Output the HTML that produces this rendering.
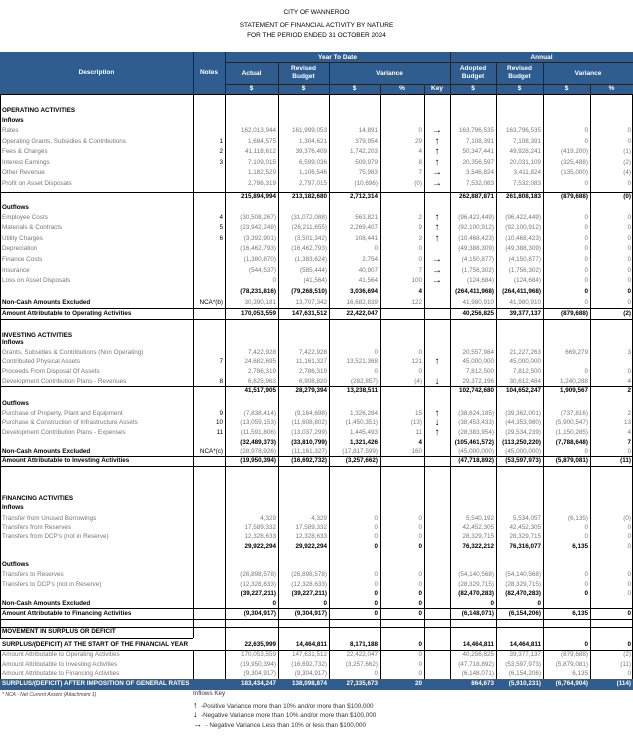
<!DOCTYPE html>
<html><head><meta charset="utf-8"><style>
body{margin:0;width:633px;height:742px;background:#fff;position:relative;overflow:hidden;font-family:"Liberation Sans",Arial,sans-serif;}
.t{position:absolute;left:0;width:633px;text-align:center;font-size:6.5px;color:#000;}
.hd{position:absolute;left:0;top:52px;width:633px;height:42px;background:#2f5d8f;}
.hl{position:absolute;background:#17273b;}
.ht{position:absolute;color:#fff;font-weight:bold;font-size:6.5px;text-align:center;line-height:8px;}
.vl{position:absolute;width:1px;background:#000;}
.hr{position:absolute;height:1px;background:#000;}
.r{position:absolute;left:0;width:633px;height:10px;line-height:10px;font-size:6.3px;color:#777;white-space:nowrap;}
.r span{position:absolute;top:0;text-align:right;}
.r .d{left:2px;text-align:left;width:300px;}
.n{left:193px;width:30px;color:#000;}
.a{left:225px;width:51px}.b{left:278px;width:49px}.c{left:329px;width:49px}.p{left:380px;width:42px}
.k{left:424px;width:26px;text-align:center!important;color:#000;font-weight:bold;font-size:10px}
.e{left:450px;width:44px}.f{left:496px;width:45px}.g{left:543px;width:45px}.h{left:590px;width:41px}
.B{color:#000;font-weight:bold;}
.bl{position:absolute;left:0;top:679px;width:633px;height:11px;background:#2f5d8f;}
.W{color:#fff!important;font-weight:bold;}
</style></head><body>
<div class="t" style="top:9px">CITY OF WANNEROO</div>
<div class="t" style="top:22px">STATEMENT OF FINANCIAL ACTIVITY BY NATURE</div>
<div class="t" style="top:32px">FOR THE PERIOD ENDED 31 OCTOBER 2024</div>

<div class="hd"></div>
<div class="hl" style="left:193px;top:52px;width:1px;height:42px"></div>
<div class="hl" style="left:225px;top:52px;width:1px;height:42px"></div>
<div class="hl" style="left:450px;top:52px;width:1px;height:42px"></div>
<div class="hl" style="left:225px;top:62px;width:408px;height:1px"></div>
<div class="hl" style="left:225px;top:84px;width:408px;height:1px"></div>
<div class="hl" style="left:278px;top:62px;width:1px;height:32px"></div>
<div class="hl" style="left:329px;top:62px;width:1px;height:32px"></div>
<div class="hl" style="left:496px;top:62px;width:1px;height:32px"></div>
<div class="hl" style="left:543px;top:62px;width:1px;height:32px"></div>
<div class="hl" style="left:380px;top:84px;width:1px;height:10px"></div>
<div class="hl" style="left:424px;top:84px;width:1px;height:10px"></div>
<div class="hl" style="left:590px;top:84px;width:1px;height:10px"></div>
<div class="ht" style="left:0;width:193px;top:69px">Description</div>
<div class="ht" style="left:193px;width:32px;top:69px">Notes</div>
<div class="ht" style="left:225px;width:225px;top:54px">Year To Date</div>
<div class="ht" style="left:450px;width:183px;top:54px">Annual</div>
<div class="ht" style="left:225px;width:53px;top:70px">Actual</div>
<div class="ht" style="left:278px;width:51px;top:65px">Revised<br>Budget</div>
<div class="ht" style="left:329px;width:121px;top:70px">Variance</div>
<div class="ht" style="left:450px;width:46px;top:65px">Adopted<br>Budget</div>
<div class="ht" style="left:496px;width:47px;top:65px">Revised<br>Budget</div>
<div class="ht" style="left:543px;width:90px;top:70px">Variance</div>
<div class="ht" style="left:225px;width:53px;top:85px">$</div>
<div class="ht" style="left:278px;width:51px;top:85px">$</div>
<div class="ht" style="left:329px;width:51px;top:85px">$</div>
<div class="ht" style="left:380px;width:44px;top:85px">%</div>
<div class="ht" style="left:424px;width:26px;top:85px">Key</div>
<div class="ht" style="left:450px;width:46px;top:85px">$</div>
<div class="ht" style="left:496px;width:47px;top:85px">$</div>
<div class="ht" style="left:543px;width:47px;top:85px">$</div>
<div class="ht" style="left:590px;width:43px;top:85px">%</div>

<div class="vl" style="left:0;top:94px;height:544px"></div>
<div class="vl" style="left:193px;top:94px;height:544px"></div>
<div class="vl" style="left:225px;top:94px;height:596px"></div>
<div class="vl" style="left:278px;top:94px;height:596px"></div>
<div class="vl" style="left:329px;top:94px;height:596px"></div>
<div class="vl" style="left:380px;top:94px;height:596px"></div>
<div class="vl" style="left:424px;top:94px;height:596px"></div>
<div class="vl" style="left:450px;top:94px;height:596px"></div>
<div class="vl" style="left:496px;top:94px;height:596px"></div>
<div class="vl" style="left:543px;top:94px;height:596px"></div>
<div class="vl" style="left:590px;top:94px;height:596px"></div>
<div class="vl" style="left:632px;top:94px;height:596px"></div>
<div class="vl" style="left:193px;top:650px;height:40px"></div>
<div class="vl" style="left:0px;top:650px;height:40px"></div>

<div class="hr" style="left:0;top:94px;width:633px"></div>
<div class="hr" style="left:0;top:192px;width:633px"></div>
<div class="hr" style="left:0;top:308px;width:633px"></div>
<div class="hr" style="left:0;top:319px;width:633px"></div>
<div class="hr" style="left:0;top:386px;width:633px"></div>
<div class="hr" style="left:0;top:456px;width:633px"></div>
<div class="hr" style="left:0;top:466px;width:633px"></div>
<div class="hr" style="left:0;top:608px;width:633px"></div>
<div class="hr" style="left:0;top:619px;width:633px"></div>
<div class="hr" style="left:0;top:627px;width:633px"></div>
<div class="hr" style="left:0;top:638px;width:193px"></div>
<div class="hr" style="left:0;top:650px;width:633px"></div>

<div class="r" style="top:106px"><span class="d B">OPERATING ACTIVITIES</span></div>
<div class="r" style="top:116px"><span class="d B">Inflows</span></div>
<div class="r" style="top:126px"><span class="d">Rates</span><span class="a">162,013,944</span><span class="b">161,999,053</span><span class="c">14,891</span><span class="p">0</span><span class="k">→</span><span class="e">163,796,535</span><span class="f">163,796,535</span><span class="g">0</span><span class="h">0</span></div>
<div class="r" style="top:137px"><span class="d">Operating Grants, Subsidies &amp; Contributions</span><span class="n">1</span><span class="a">1,684,575</span><span class="b">1,304,621</span><span class="c">379,954</span><span class="p">29</span><span class="k">↑</span><span class="e">7,108,391</span><span class="f">7,108,391</span><span class="g">0</span><span class="h">0</span></div>
<div class="r" style="top:147px"><span class="d">Fees &amp; Charges</span><span class="n">2</span><span class="a">41,118,612</span><span class="b">39,376,409</span><span class="c">1,742,203</span><span class="p">4</span><span class="k">↑</span><span class="e">50,347,441</span><span class="f">49,928,241</span><span class="g">(419,200)</span><span class="h">(1)</span></div>
<div class="r" style="top:158px"><span class="d">Interest Earnings</span><span class="n">3</span><span class="a">7,109,015</span><span class="b">6,599,036</span><span class="c">509,979</span><span class="p">8</span><span class="k">↑</span><span class="e">20,356,597</span><span class="f">20,031,109</span><span class="g">(325,488)</span><span class="h">(2)</span></div>
<div class="r" style="top:168px"><span class="d">Other Revenue</span><span class="a">1,182,529</span><span class="b">1,106,546</span><span class="c">75,983</span><span class="p">7</span><span class="k">→</span><span class="e">3,546,824</span><span class="f">3,411,824</span><span class="g">(135,000)</span><span class="h">(4)</span></div>
<div class="r" style="top:179px"><span class="d">Profit on Asset Disposals</span><span class="a">2,786,319</span><span class="b">2,797,015</span><span class="c">(10,696)</span><span class="p">(0)</span><span class="k">→</span><span class="e">7,532,083</span><span class="f">7,532,083</span><span class="g">0</span><span class="h">0</span></div>
<div class="r B" style="top:192px"><span class="a">215,894,994</span><span class="b">213,182,680</span><span class="c">2,712,314</span><span class="e">262,887,871</span><span class="f">261,808,183</span><span class="g">(879,688)</span><span class="h">(0)</span></div>
<div class="r" style="top:203px"><span class="d B">Outflows</span></div>
<div class="r" style="top:213px"><span class="d">Employee Costs</span><span class="n">4</span><span class="a">(30,508,267)</span><span class="b">(31,072,088)</span><span class="c">563,821</span><span class="p">2</span><span class="k">↑</span><span class="e">(96,422,449)</span><span class="f">(96,422,449)</span><span class="g">0</span><span class="h">0</span></div>
<div class="r" style="top:223px"><span class="d">Materials &amp; Contracts</span><span class="n">5</span><span class="a">(23,942,248)</span><span class="b">(26,211,655)</span><span class="c">2,269,407</span><span class="p">9</span><span class="k">↑</span><span class="e">(92,100,912)</span><span class="f">(92,100,912)</span><span class="g">0</span><span class="h">0</span></div>
<div class="r" style="top:234px"><span class="d">Utility Charges</span><span class="n">6</span><span class="a">(3,392,901)</span><span class="b">(3,501,342)</span><span class="c">108,441</span><span class="p">3</span><span class="k">↑</span><span class="e">(10,468,423)</span><span class="f">(10,468,423)</span><span class="g">0</span><span class="h">0</span></div>
<div class="r" style="top:244px"><span class="d">Depreciation</span><span class="a">(16,462,793)</span><span class="b">(16,462,793)</span><span class="c">0</span><span class="p">0</span><span class="e">(49,388,309)</span><span class="f">(49,388,309)</span><span class="g">0</span><span class="h">0</span></div>
<div class="r" style="top:255px"><span class="d">Finance Costs</span><span class="a">(1,380,870)</span><span class="b">(1,383,624)</span><span class="c">2,754</span><span class="p">0</span><span class="k">→</span><span class="e">(4,150,877)</span><span class="f">(4,150,877)</span><span class="g">0</span><span class="h">0</span></div>
<div class="r" style="top:266px"><span class="d">Insurance</span><span class="a">(544,537)</span><span class="b">(585,444)</span><span class="c">40,907</span><span class="p">7</span><span class="k">→</span><span class="e">(1,756,302)</span><span class="f">(1,756,302)</span><span class="g">0</span><span class="h">0</span></div>
<div class="r" style="top:276px"><span class="d">Loss on Asset Disposals</span><span class="a">0</span><span class="b">(41,564)</span><span class="c">41,564</span><span class="p">100</span><span class="k">→</span><span class="e">(124,684)</span><span class="f">(124,684)</span><span class="g">0</span><span class="h">0</span></div>
<div class="r B" style="top:287px"><span class="a">(78,231,816)</span><span class="b">(79,268,510)</span><span class="c">3,036,694</span><span class="p">4</span><span class="e">(264,411,968)</span><span class="f">(264,411,968)</span><span class="g">0</span><span class="h">0</span></div>
<div class="r" style="top:298px"><span class="d B">Non-Cash Amounts Excluded</span><span class="n">NCA*(b)</span><span class="a">30,390,181</span><span class="b">13,707,342</span><span class="c">16,682,839</span><span class="p">122</span><span class="e">41,980,910</span><span class="f">41,980,910</span><span class="g">0</span><span class="h">0</span></div>
<div class="r B" style="top:309px"><span class="d">Amount Attributable to Operating Activities</span><span class="a">170,053,559</span><span class="b">147,631,512</span><span class="c">22,422,047</span><span class="e">40,256,825</span><span class="f">39,377,137</span><span class="g">(879,688)</span><span class="h">(2)</span></div>

<div class="r" style="top:331px"><span class="d B">INVESTING ACTIVITIES</span></div>
<div class="r" style="top:338px"><span class="d B">Inflows</span></div>
<div class="r" style="top:348px"><span class="d">Grants, Subsidies &amp; Contributions (Non Operating)</span><span class="a">7,422,928</span><span class="b">7,422,928</span><span class="c">0</span><span class="p">0</span><span class="e">20,557,984</span><span class="f">21,227,263</span><span class="g">669,279</span><span class="h">3</span></div>
<div class="r" style="top:357px"><span class="d">Contributed Physical Assets</span><span class="n">7</span><span class="a">24,682,695</span><span class="b">11,161,327</span><span class="c">13,521,368</span><span class="p">121</span><span class="k">↑</span><span class="e">45,000,000</span><span class="f">45,000,000</span></div>
<div class="r" style="top:367px"><span class="d">Proceeds From Disposal Of Assets</span><span class="a">2,786,319</span><span class="b">2,786,319</span><span class="c">0</span><span class="p">0</span><span class="e">7,812,500</span><span class="f">7,812,500</span><span class="g">0</span><span class="h">0</span></div>
<div class="r" style="top:377px"><span class="d">Development Contribution Plans - Revenues</span><span class="n">8</span><span class="a">6,625,963</span><span class="b">6,908,820</span><span class="c">(282,857)</span><span class="p">(4)</span><span class="k">↓</span><span class="e">29,372,196</span><span class="f">30,612,484</span><span class="g">1,240,288</span><span class="h">4</span></div>
<div class="r B" style="top:386px"><span class="a">41,517,905</span><span class="b">28,279,394</span><span class="c">13,238,511</span><span class="e">102,742,680</span><span class="f">104,652,247</span><span class="g">1,909,567</span><span class="h">2</span></div>
<div class="r" style="top:399px"><span class="d B">Outflows</span></div>
<div class="r" style="top:409px"><span class="d">Purchase of Property, Plant and Equipment</span><span class="n">9</span><span class="a">(7,838,414)</span><span class="b">(9,164,698)</span><span class="c">1,326,284</span><span class="p">15</span><span class="k">↑</span><span class="e">(38,624,185)</span><span class="f">(39,362,001)</span><span class="g">(737,816)</span><span class="h">2</span></div>
<div class="r" style="top:418px"><span class="d">Purchase &amp; Construction of Infrastructure Assets</span><span class="n">10</span><span class="a">(13,059,153)</span><span class="b">(11,608,802)</span><span class="c">(1,450,351)</span><span class="p">(13)</span><span class="k">↓</span><span class="e">(38,453,433)</span><span class="f">(44,353,980)</span><span class="g">(5,900,547)</span><span class="h">13</span></div>
<div class="r" style="top:428px"><span class="d">Development Contribution Plans - Expenses</span><span class="n">11</span><span class="a">(11,591,806)</span><span class="b">(13,037,299)</span><span class="c">1,445,493</span><span class="p">11</span><span class="k">↑</span><span class="e">(28,383,954)</span><span class="f">(29,534,239)</span><span class="g">(1,150,285)</span><span class="h">4</span></div>
<div class="r B" style="top:438px"><span class="a">(32,489,373)</span><span class="b">(33,810,799)</span><span class="c">1,321,426</span><span class="p">4</span><span class="e">(105,461,572)</span><span class="f">(113,250,220)</span><span class="g">(7,788,648)</span><span class="h">7</span></div>
<div class="r" style="top:447px"><span class="d B">Non-Cash Amounts Excluded</span><span class="n">NCA*(c)</span><span class="a">(28,978,926)</span><span class="b">(11,161,327)</span><span class="c">(17,817,599)</span><span class="p">160</span><span class="e">(45,000,000)</span><span class="f">(45,000,000)</span><span class="g">0</span><span class="h">0</span></div>
<div class="r B" style="top:456px"><span class="d">Amount Attributable to Investing Activities</span><span class="a">(19,950,394)</span><span class="b">(16,692,732)</span><span class="c">(3,257,662)</span><span class="e">(47,718,892)</span><span class="f">(53,597,973)</span><span class="g">(5,879,081)</span><span class="h">(11)</span></div>

<div class="r" style="top:494px"><span class="d B">FINANCING ACTIVITIES</span></div>
<div class="r" style="top:503px"><span class="d B">Inflows</span></div>
<div class="r" style="top:514px"><span class="d">Transfer from Unused Borrowings</span><span class="a">4,329</span><span class="b">4,329</span><span class="c">0</span><span class="p">0</span><span class="e">5,540,192</span><span class="f">5,534,057</span><span class="g">(6,135)</span><span class="h">(0)</span></div>
<div class="r" style="top:523px"><span class="d">Transfers from Reserves</span><span class="a">17,589,332</span><span class="b">17,589,332</span><span class="c">0</span><span class="p">0</span><span class="e">42,452,305</span><span class="f">42,452,305</span><span class="g">0</span><span class="h">0</span></div>
<div class="r" style="top:532px"><span class="d">Transfers from DCP's (not in Reserve)</span><span class="a">12,328,633</span><span class="b">12,328,633</span><span class="c">0</span><span class="p">0</span><span class="e">28,329,715</span><span class="f">28,329,715</span><span class="g">0</span><span class="h">0</span></div>
<div class="r B" style="top:542px"><span class="a">29,922,294</span><span class="b">29,922,294</span><span class="c">0</span><span class="p">0</span><span class="e">76,322,212</span><span class="f">76,316,077</span><span class="g">6,135</span><span class="h" style="color:#777;font-weight:normal">0</span></div>
<div class="r" style="top:560px"><span class="d B">Outflows</span></div>
<div class="r" style="top:570px"><span class="d">Transfers to Reserves</span><span class="a">(26,898,578)</span><span class="b">(26,898,578)</span><span class="c">0</span><span class="p">0</span><span class="e">(54,140,568)</span><span class="f">(54,140,568)</span><span class="g">0</span><span class="h">0</span></div>
<div class="r" style="top:580px"><span class="d">Transfers to DCP's (not in Reserve)</span><span class="a">(12,328,633)</span><span class="b">(12,328,633)</span><span class="c">0</span><span class="p">0</span><span class="e">(28,329,715)</span><span class="f">(28,329,715)</span><span class="g">0</span><span class="h">0</span></div>
<div class="r B" style="top:589px"><span class="a">(39,227,211)</span><span class="b">(39,227,211)</span><span class="c">0</span><span class="p">0</span><span class="e">(82,470,283)</span><span class="f">(82,470,283)</span><span class="g">0</span><span class="h" style="color:#777;font-weight:normal">0</span></div>
<div class="r B" style="top:599px"><span class="d">Non-Cash Amounts Excluded</span><span class="a">0</span><span class="b">0</span><span class="c">0</span><span class="p">0</span><span class="e">0</span><span class="f">0</span></div>
<div class="r B" style="top:609px"><span class="d">Amount Attributable to Financing Activities</span><span class="a">(9,304,917)</span><span class="b">(9,304,917)</span><span class="c">0</span><span class="p">0</span><span class="e">(6,148,071)</span><span class="f">(6,154,206)</span><span class="g">6,135</span><span class="h">0</span></div>
<div class="r B" style="top:627px"><span class="d">MOVEMENT IN SURPLUS OR DEFICIT</span></div>
<div class="r B" style="top:640px"><span class="d">SURPLUS/(DEFICIT) AT THE START OF THE FINANCIAL YEAR</span><span class="a">22,635,999</span><span class="b">14,464,811</span><span class="c">8,171,188</span><span class="p">0</span><span class="e">14,464,811</span><span class="f">14,464,811</span><span class="g">0</span><span class="h">0</span></div>
<div class="r" style="top:650px"><span class="d">Amount Attributable to Operating Activities</span><span class="a">170,053,559</span><span class="b">147,631,512</span><span class="c">22,422,047</span><span class="p">0</span><span class="e">40,256,825</span><span class="f">39,377,137</span><span class="g">(879,688)</span><span class="h">(2)</span></div>
<div class="r" style="top:660px"><span class="d">Amount Attributable to Investing Activities</span><span class="a">(19,950,394)</span><span class="b">(16,692,732)</span><span class="c">(3,257,662)</span><span class="p">0</span><span class="e">(47,718,892)</span><span class="f">(53,597,973)</span><span class="g">(5,879,081)</span><span class="h">(11)</span></div>
<div class="r" style="top:669px"><span class="d">Amount Attributable to Financing Activities</span><span class="a">(9,304,917)</span><span class="b">(9,304,917)</span><span class="c">0</span><span class="p">0</span><span class="e">(6,148,071)</span><span class="f">(6,154,206)</span><span class="g">6,135</span><span class="h">0</span></div>
<div class="bl"></div>
<div class="r W" style="top:679px"><span class="d W">SURPLUS/(DEFICIT) AFTER IMPOSITION OF GENERAL RATES</span><span class="a W">183,434,247</span><span class="b W">138,098,874</span><span class="c W">27,335,673</span><span class="p W">20</span><span class="e W">864,673</span><span class="f W">(5,910,231)</span><span class="g W">(6,764,904)</span><span class="h W">(114)</span></div>

<div class="r" style="top:690px;font-size:5px;color:#444"><span class="d"><i>* NCA - Net Current Assets (Attachment 1)</i></span></div>
<div class="r" style="top:689px;color:#333"><span style="left:193px;text-align:left">Inflows Key</span></div>
<div class="r" style="top:700px;color:#333"><span style="left:193px;text-align:left"><b style="font-size:9px;color:#000">↑</b>&nbsp; -Positive Variance more than 10% and/or more than $100,000</span></div>
<div class="r" style="top:709px;color:#333"><span style="left:193px;text-align:left"><b style="font-size:9px;color:#000">↓</b>&nbsp; -Negative Variance more than 10% and/or more than $100,000</span></div>
<div class="r" style="top:719px;color:#333"><span style="left:193px;text-align:left"><b style="font-size:9px;color:#000">→</b>&nbsp; - Negative Variance Less than 10% or less than $100,000</span></div>
</body></html>
